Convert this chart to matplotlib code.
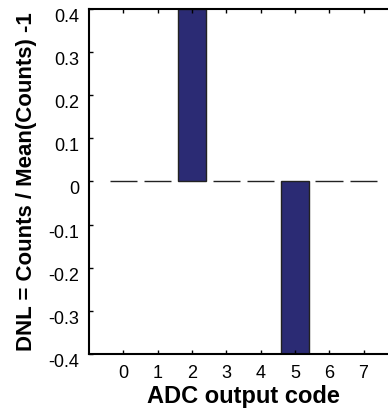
import matplotlib.pyplot as plt
from matplotlib.ticker import FormatStrFormatter

plt.rcParams['font.family'] = ['Liberation Sans', 'DejaVu Sans']
plt.rcParams['axes.unicode_minus'] = False

codes = [0, 1, 2, 3, 4, 5, 6, 7]
dnl = [0.0, 0.0, 0.4, 0.0, 0.0, -0.4, 0.0, 0.0]
yticks = [-0.4, -0.3, -0.2, -0.1, 0, 0.1, 0.2, 0.3, 0.4]

fig = plt.figure(figsize=(3.88, 4.08), dpi=100)
ax = fig.add_axes([0.2294, 0.1324, 0.796, 0.8456])

ax.bar(codes, dnl, width=0.8, color='#2b2b74', edgecolor='#222222', linewidth=1.0)

ax.set_xlim(-1, 8)
ax.set_ylim(-0.4, 0.4)
ax.set_xticks(codes)
ax.set_yticks(yticks)
ax.yaxis.set_major_formatter(FormatStrFormatter('%g'))
ax.tick_params(direction='in', length=3, width=1, top=True, right=True,
               labelsize=13)
ax.tick_params(axis='y', pad=7)
ax.tick_params(axis='x', pad=8)
for lbl in ax.get_yticklabels():
    lbl.set_verticalalignment('top')
for s in ax.spines.values():
    s.set_linewidth(1.5)

ax.set_xlabel('ADC output code', fontsize=17, fontweight='bold', labelpad=2)
ax.set_ylabel('DNL = Counts / Mean(Counts) -1', fontsize=16, fontweight='bold',
              labelpad=8)

fig.savefig('out.png', dpi=100)
